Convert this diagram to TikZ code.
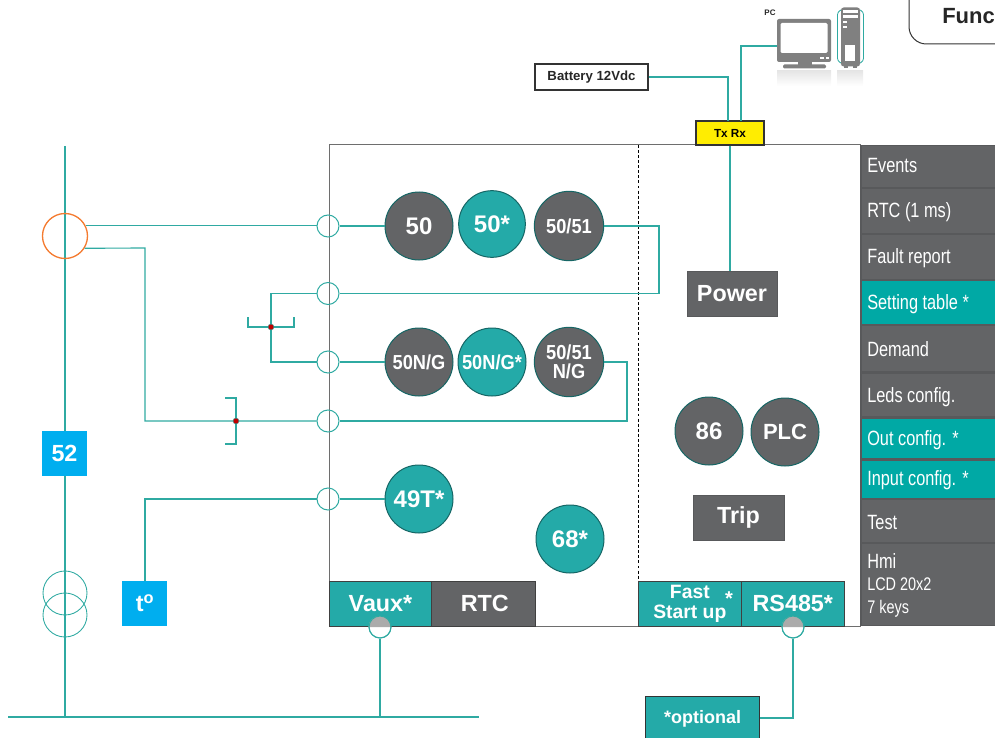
\documentclass[tikz,border=0pt]{standalone}
\usepackage{fontspec}
\setmainfont{Liberation Sans}
\newfontfamily\narrowf[FakeStretch=0.79]{Liberation Sans}
\newfontfamily\narrowb[FakeStretch=0.9]{Liberation Sans Bold}
\definecolor{tealA}{HTML}{24AAA8}
\definecolor{tealB}{HTML}{00A9A5}
\definecolor{wire}{HTML}{2FAAA2}
\definecolor{slate}{HTML}{636466}
\definecolor{sep}{HTML}{58595B}
\definecolor{skyb}{HTML}{00AEEF}
\definecolor{oran}{HTML}{F47B30}
\definecolor{icong}{HTML}{808080}
\definecolor{frameg}{HTML}{6E6E6E}
\tikzset{
  wireline/.style={draw=wire,line width=0.85pt},
  port/.style={circle,draw=wire,line width=0.75pt,minimum size=16.5pt,inner sep=0pt},
  relay/.style={circle,draw=tealA!60!black,fill=#1,line width=0.75pt,minimum size=51pt,inner sep=0pt,text=white,font=\bfseries\fontsize{18}{18}\selectfont,align=center},
  relaysmall/.style={relay=#1,font=\narrowb\fontsize{15.2}{15.5}\selectfont},
  bluebox/.style={fill=skyb,text=white,minimum width=33.75pt,minimum height=33.75pt,inner sep=0pt,font=\bfseries\fontsize{17.5}{18}\selectfont},
  bar/.style={draw=black!75,fill=#1,line width=0.75pt,minimum height=33.75pt,inner sep=0pt,text=white,anchor=north west,font=\bfseries\fontsize{17.5}{18}\selectfont,align=center},
  greybox/.style={draw=sep,fill=slate,text=white,minimum height=33.75pt,inner sep=0pt,font=\bfseries\fontsize{17.5}{18}\selectfont},
  sidetext/.style={anchor=base west,inner sep=0pt,text=white,font=\narrowf\fontsize{15.5}{15.5}\selectfont},
  sidesmall/.style={sidetext,font=\narrowf\fontsize{13.7}{13.7}\selectfont},
  dotred/.style={circle,fill=red!75!black,draw=wire,line width=0.3pt,minimum size=4.5pt,inner sep=0pt},
}
\begin{document}
\begin{tikzpicture}[x=0.75pt,y=-0.75pt]
\useasboundingbox (0,0) rectangle (995,738);
% frame
\coordinate (fTL) at (329,145);
\coordinate (fBR) at (860,626);
\draw[frameg,line width=0.75pt] (fTL) rectangle (fBR);
\coordinate (dashT) at (638.5,145);
\coordinate (dashB) at (638.5,582);
\draw[black,line width=0.6pt,dash pattern=on 2.2pt off 1.6pt] (dashT) -- (dashB);
% sidebar
\fill[sep] (860,145) rectangle (995,626);
\fill[slate] (862,146) rectangle (995,187);
\fill[slate] (862,189) rectangle (995,233);
\fill[slate] (862,235) rectangle (995,279);
\fill[tealB] (862,281) rectangle (995,324);
\fill[slate] (862,326) rectangle (995,371);
\fill[slate] (862,374) rectangle (995,416);
\fill[tealB] (862,419) rectangle (995,458);
\fill[tealB] (862,461) rectangle (995,498);
\fill[slate] (862,500) rectangle (995,542);
\fill[slate] (862,544) rectangle (995,625);
\node[sidetext] (s1) at (867,172) {Events};
\node[sidetext] (s2) at (867,217) {RTC (1 ms)};
\node[sidetext] (s3) at (867,263) {Fault report};
\node[sidetext] (s4) at (867,309) {Setting table *};
\node[sidetext] (s5) at (867,356) {Demand};
\node[sidetext] (s6) at (867,402) {Leds config.};
\node[sidetext] (s7) at (867,445) {Out config. *};
\node[sidetext] (s8) at (867,485) {Input config. *};
\node[sidetext] (s9) at (867,529) {Test};
\node[sidetext] (s10) at (867,568) {Hmi};
\node[sidesmall] (s11) at (867,590) {LCD 20x2};
\node[sidesmall] (s12) at (867,613) {7 keys};
% Func tab
\draw[black!80,line width=0.75pt,rounded corners=13pt] (909,-30) -- (909,44) -- (1020,44);
\node[anchor=base west,inner sep=0pt,font=\bfseries\fontsize{16.5}{16.5}\selectfont,text=black!85] (func) at (942,24) {Func};
% ports
\node[port] (p1) at (328,226) {};
\node[port] (p2) at (328,293.5) {};
\node[port] (p3) at (328,362) {};
\node[port] (p4) at (328,421) {};
\node[port] (p5) at (328,499) {};
% relays
\node[relay=slate] (r50) at (419,226) {50};
\node[relay=tealA,minimum size=50pt] (r50s) at (492,224) {50*};
\node[relaysmall=slate,minimum size=52pt] (r5051) at (569,226) {50/51};
\node[relaysmall=slate] (rn) at (419,362) {50N/G};
\node[relaysmall=tealA] (rns) at (492,362) {50N/G*};
\node[relaysmall=slate,minimum size=52pt] (r5051n) at (569,362) {50/51\\[-1pt]N/G};
\node[relay=tealA] (r49) at (419,499) {49T*};
\node[relay=tealA] (r68) at (570,539) {68*};
\node[relay=slate] (r86) at (709,431) {86};
\node[relay=slate,font=\bfseries\fontsize{16.5}{16.5}\selectfont] (rplc) at (785,432) {PLC};
% grey boxes
\node[greybox,minimum width=67.5pt] (power) at (732,293.5) {Power};
\node[greybox,minimum width=68pt] (trip) at (738.5,517.5) {\raisebox{-2pt}{Trip}};
% bottom bar
\node[bar=tealA,minimum width=76.5pt] (vaux) at (329,581) {\raisebox{1pt}{Vaux*}};
\node[bar=slate,minimum width=78pt] (rtc) at (431,581) {\raisebox{1pt}{\hspace{2pt}RTC}};
\node[bar=tealA,minimum width=77pt,font=\bfseries\fontsize{14.5}{14}\selectfont] (fast) at (638,581) {Fast\\[0.5pt]Start up};
\node[inner sep=0pt,text=white,font=\bfseries\fontsize{15}{15}\selectfont] (fastast) at (729,598.5) {*};
\node[bar=tealA,minimum width=77pt] (rs) at (741,581) {\raisebox{1pt}{RS485*}};
% half-grey ports
\node[port] (pv) at (380,627) {};
\node[port] (pr) at (793,627) {};
\fill[black!33] (pv.west) arc[start angle=180,end angle=360,radius=11] -- cycle;
\fill[black!33] (pr.west) arc[start angle=180,end angle=360,radius=11] -- cycle;
\node[port] at (pv) {};
\node[port] at (pr) {};
% feeder
\coordinate (busT) at (65,146);
\coordinate (busB) at (65,717);
\coordinate (hL) at (8,717);
\coordinate (hR) at (479,717);
\draw[wireline] (busT) -- (busB);
\draw[wireline] (hL) -- (hR);
\node[circle,draw=oran,line width=1pt,minimum size=33.75pt,inner sep=0pt] (ct) at (65,236) {};
\node[port,minimum size=33pt,line width=0.65pt] (t1) at (65,593) {};
\node[port,minimum size=33pt,line width=0.65pt] (t2) at (65,615) {};
\node[bluebox] (b52) at (64.5,453) {52};
\node[bluebox] (bt) at (144.5,603.5) {\hspace{1pt}t\textsuperscript{o}};
% top boxes
\node[draw=black!80,line width=0.9pt,fill=yellow!95!orange,minimum width=51pt,minimum height=18pt,inner sep=0pt,font=\bfseries\fontsize{8.8}{9}\selectfont] (txrx) at (730,133) {Tx Rx};
\node[draw=black!80,line width=0.9pt,fill=white,minimum width=84.75pt,minimum height=19.5pt,inner sep=0pt,font=\bfseries\fontsize{9.9}{10}\selectfont,text=black!85] (batt) at (591.5,77) {Battery 12Vdc};
\node[draw=black!80,line width=0.9pt,fill=tealA,anchor=north west,minimum width=85.5pt,minimum height=36pt,inner sep=0pt,text=white,font=\bfseries\fontsize{13.5}{14}\selectfont] (opt) at (645,696) {\raisebox{5pt}{*optional}};
% PC icon
\node[inner sep=0pt,font=\bfseries\fontsize{6}{6}\selectfont,text=black!85] (pclabel) at (770,12.5) {PC};
\shade[top color=black!10,bottom color=white] (777,71) rectangle (831,86);
\shade[top color=black!10,bottom color=white] (837,71) rectangle (863,86);
\node[fill=icong,rounded corners=1.5pt,minimum width=40.5pt,minimum height=32.25pt,inner sep=0pt] (mon) at (804,40.5) {};
\fill[white,rounded corners=1pt] (780.5,23) rectangle (827.5,53);
\fill[white] (820,57) rectangle (824,59.5);
\fill[white] (825.5,57) rectangle (829,59.5);
\fill[icong] (798,62) rectangle (812,65);
\fill[icong,rounded corners=1pt] (783,64.5) rectangle (826,68.5);
\draw[wire,line width=0.6pt,rounded corners=2pt] (841,10) -- (837.5,12) -- (837.5,61) -- (841,63);
\draw[wire,line width=0.6pt,rounded corners=2pt] (860,10) -- (863.5,12) -- (863.5,61) -- (860,63);
\node[fill=icong,rounded corners=2pt,minimum width=14.25pt,minimum height=44.25pt,inner sep=0pt] (tower) at (850.5,37) {};
\fill[icong] (844,66) rectangle (848,68);
\fill[icong] (853,66) rectangle (857,68);
\fill[white] (843,10.5) rectangle (858,13);
\fill[white] (843,15.5) rectangle (858,18);
\fill[white] (843,21) rectangle (847,23.5);
\fill[white] (843,26) rectangle (847,28.5);
\fill[white] (845,45) rectangle (855,61);
% wires
\draw[wireline] (ct.26.4) -- (ct.26.4 -| p1.west);
\draw[wireline] (p1) -- (r50);
\draw[wireline] (r5051.east) -- (r5051.east -| 659,0) -- (659,293.5) -- (p2.east);
\draw[wireline] (p2.west) -| (271,327) |- (p3.west);
\draw[wireline] (p3) -- (rn);
\draw[wireline] (r5051n.east) -- (r5051n.east -| 627,0) -- (627,421) -- (p4.east);
\draw[wireline] (p4.west) -- (145,421) -- (145,248) -- (ct.-32);
\draw[wireline] (p5) -- (r49);
\draw[wireline] (p5.west) -- (145,499) -- (bt.north -| 145,0);
\draw[wireline] (batt.east) -- (728,77) -- (728,121);
\draw[wireline] (mon.west |- 0,46) -- (741,46) -- (741,121);
\draw[wireline] (txrx.south) -- (power.north -| txrx.south);
\draw[wireline] (pv.south) -- (pv.south |- hR);
\draw[wireline] (pr.south) -- (793,718) -- (opt.east |- 0,718);
% trip brackets
\coordinate (jA) at (271,327);
\coordinate (jB) at (236,421);
\draw[wireline] (248,317) -- (248,327) -- (294,327) -- (294,317);
\draw[wireline] (225,398) -- (236,398) -- (236,444) -- (225,444);
\node[dotred] (dA) at (jA) {};
\node[dotred] (dB) at (jB) {};
\end{tikzpicture}
\end{document}
